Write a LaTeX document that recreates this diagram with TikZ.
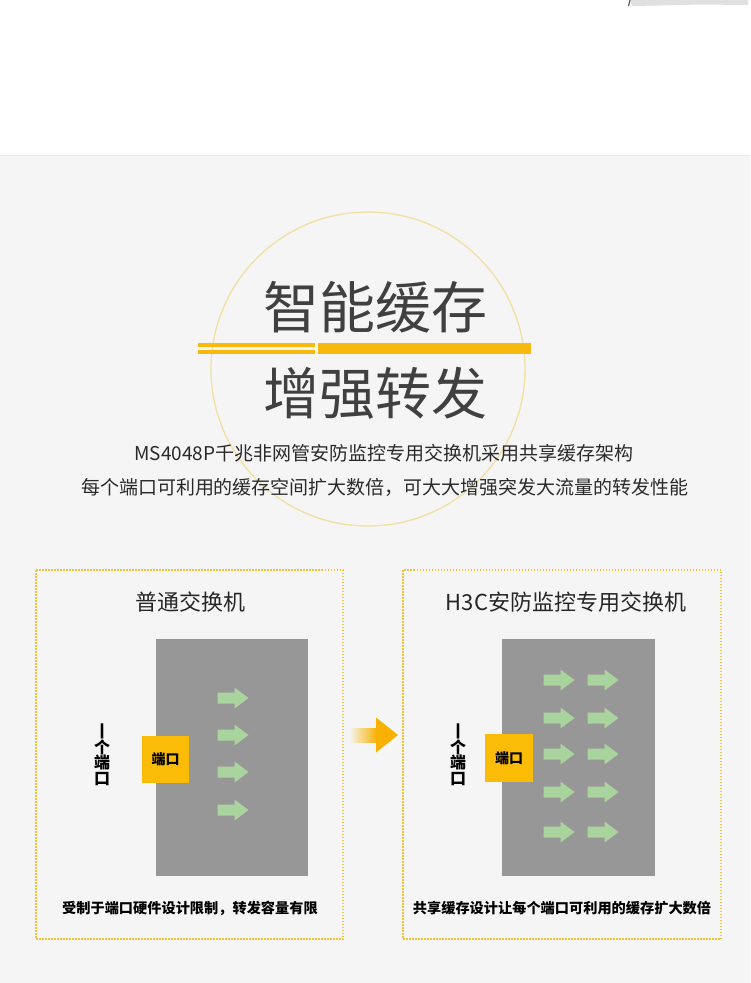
\documentclass[tikz,border=0pt]{standalone}
\usepackage{fontspec}
\setmainfont{Noto Sans CJK SC}
\usetikzlibrary{shapes.geometric}
\definecolor{bgc}{HTML}{F5F5F5}
\definecolor{linec}{HTML}{EAEAEA}
\definecolor{ringc}{HTML}{F3DFA2}
\definecolor{barc}{HTML}{F8B90F}
\definecolor{dotc}{HTML}{F2C43C}
\definecolor{grayc}{HTML}{989797}
\definecolor{greenc}{HTML}{A9D49E}
\definecolor{portc}{HTML}{FBBC08}
\definecolor{orangec}{HTML}{F9B100}
\definecolor{txtc}{HTML}{2A2A2A}
\definecolor{titc}{HTML}{404040}
\begin{document}
\begin{tikzpicture}[x=1pt,y=-1pt,
  txt/.style={inner sep=0pt, text=txtc, anchor=center},
  bigtitle/.style={txt, text=titc, font=\fontsize{56}{60}\selectfont},
  subline/.style={txt, font=\fontsize{19}{22}\selectfont},
  paneltitle/.style={txt, text=black!85, font=\fontsize{22}{26}\selectfont},
  bottomtxt/.style={txt, text=black, font=\bfseries\fontsize{14.2}{16}\selectfont},
  vtext/.style={txt, text=black, align=center, font=\bfseries\fontsize{16}{15.5}\selectfont},
  portbox/.style={fill=portc, inner sep=0pt, minimum width=47.5pt, minimum height=47.5pt, text=black, font=\bfseries\fontsize{14}{16}\selectfont},
  dotbox/.style={draw=dotc, line width=1.5pt, dash pattern=on 1.5pt off 1.5pt},
  ringstyle/.style={circle, draw=ringc, line width=1.3pt, minimum size=314pt, inner sep=0pt},
  yellowbar/.style={fill=barc},
  garrow/.pic={\fill[greenc] (-15.5,-5.5) -- (1.5,-5.5) -- (1.5,-10.5) -- (15.5,0) -- (1.5,10.5) -- (1.5,5.5) -- (-15.5,5.5) -- cycle;}
]
\useasboundingbox (0,0) rectangle (750,983);
% backgrounds
\fill[white] (0,0) rectangle (750,155);
\fill[bgc] (0,155) rectangle (750,983);
\draw[linec, line width=1pt] (0,155.5) -- (750,155.5);
% top-right fragment
\fill[black!12] (630,0) -- (748,0) -- (748,5) -- (700,4.5) -- (660,5.5) -- (632,6) -- cycle;
\draw[black!70, line width=1.1pt] (630,0) -- (628.5,6);

% ring
\node[ringstyle] (ring) at (368,369) {};

% titles
\node[bigtitle] (t1) at (375,307) {智能缓存};
\node[bigtitle] (t2) at (375,393) {增强转发};
\path[yellowbar] (198,342.5) rectangle (315,346.5);
\path[yellowbar] (198,350) rectangle (315,354);
\path[yellowbar] (318,342.5) rectangle (531,354.3);

\node[subline] (s1) at (384,453) {MS4048P千兆非网管安防监控专用交换机采用共享缓存架构};
\node[subline] (s2) at (385,487) {每个端口可利用的缓存空间扩大数倍，可大大增强突发大流量的转发性能};

% panels
\draw[dotbox] (36,570) rectangle (343,939);
\draw[dotbox] (403,570) rectangle (721,939);

\node[paneltitle] (lt) at (190,602) {普通交换机};
\node[paneltitle] (rt) at (566,602) {H3C安防监控专用交换机};

\fill[grayc] (156,639) rectangle (308,876);
\fill[grayc] (502,639) rectangle (655,876);

\node[portbox] (lp) at (165.5,759.5) {端口};
\node[portbox] (rp) at (509,758) {端口};

\node[vtext] (lv) at (102,755) {丨\\个\\端\\口};
\node[vtext] (rv) at (458,755) {丨\\个\\端\\口};

% green arrows left
\foreach \yy in {698,735,772,810} {\pic at (233,\yy) {garrow};}
% green arrows right
\foreach \yy in {680,718,754,792,832} {\pic at (559,\yy) {garrow}; \pic at (603,\yy) {garrow};}

% middle arrow
\shade[left color=bgc, right color=orangec] (349,728) rectangle (377,742);
\fill[orangec] (376,717.5) -- (398,735) -- (376,752.5) -- cycle;

\node[bottomtxt] (lb) at (190,908) {受制于端口硬件设计限制，转发容量有限};
\node[bottomtxt] (rb) at (562,908) {共享缓存设计让每个端口可利用的缓存扩大数倍};
\end{tikzpicture}
\end{document}
